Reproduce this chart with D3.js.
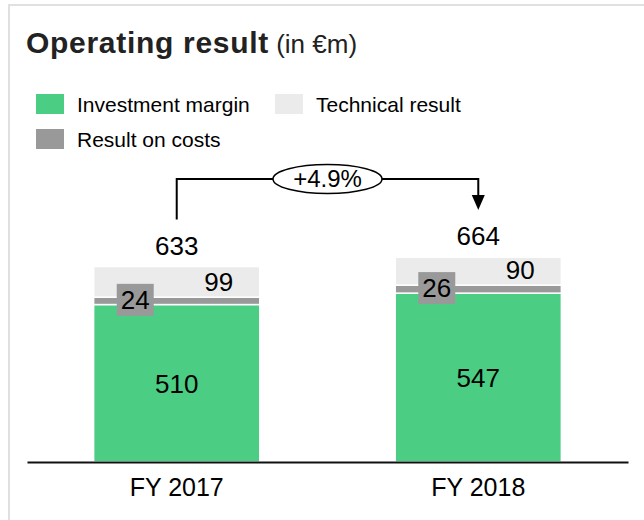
<!DOCTYPE html>
<meta charset="utf-8">
<style>
    body { margin: 0; background: #fff; }
    svg text { font-family: "Liberation Sans", Arial, sans-serif; fill: #000; }
</style>
<script src="https://d3js.org/d3.v7.min.js"></script>
<body>
<div id="chart"></div>
<script>

    // values
    var categories = ["FY 2017", "FY 2018"];
    var investmentMargin = [510, 547];
    var resultOnCosts = [24, 26];
    var technicalResult = [99, 90];
    var totals = [633, 664];
    var growthLabel = "+4.9%";

    var seriesKeys = ["invest", "costs", "technical"];
    var seriesNames = ["Investment margin", "Result on costs", "Technical result"];
    var colors = {invest: "#4bcd84", costs: "#999999", technical: "#ebebeb"};

    var width = 644, height = 520;

    var svg = d3.select("#chart")
        .append("svg")
        .attr("width", width)
        .attr("height", height);

    // panel border
    svg.append("rect")
        .attr("x", 9).attr("y", 5)
        .attr("width", 660).attr("height", 540)
        .attr("fill", "none")
        .attr("stroke", "#e0e0e0")
        .attr("stroke-width", 2);

    // title
    var title = svg.append("text")
        .attr("x", 26).attr("y", 53)
        .style("fill", "#222");
    title.append("tspan")
        .attr("font-weight", "bold")
        .attr("font-size", "30px")
        .attr("letter-spacing", "0.7px")
        .text("Operating result");
    title.append("tspan")
        .attr("font-size", "26px")
        .text(" (in €m)");

    // legend
    var legendItems = [
        {key: "invest", x: 36, y: 94},
        {key: "technical", x: 275, y: 94},
        {key: "costs", x: 36, y: 129}
    ];
    var legend = svg.append("g")
        .selectAll("g")
        .data(legendItems)
        .enter()
        .append("g")
        .attr("transform", function (d) { return "translate(" + d.x + "," + d.y + ")"; });
    legend.append("rect")
        .attr("width", 28).attr("height", 20)
        .attr("fill", function (d) { return colors[d.key]; });
    legend.append("text")
        .attr("x", 41).attr("y", 18)
        .attr("font-size", "21px")
        .text(function (d) { return seriesNames[seriesKeys.indexOf(d.key)]; });

    // scales
    var x = d3.scaleBand()
        .domain(categories)
        .range([27, 628])
        .paddingInner(0.449)
        .paddingOuter(0.221);

    var y = d3.scaleLinear()
        .domain([0, d3.max(totals)])
        .range([462, 257]);

    var rows = categories.map(function (c, i) {
        return {cat: c, invest: investmentMargin[i], costs: resultOnCosts[i], technical: technicalResult[i], total: totals[i]};
    });

    var stack = d3.stack().keys(seriesKeys)(rows);

    svg.append("g")
        .selectAll("g")
        .data(stack)
        .enter()
        .append("g")
        .attr("fill", function (d) { return colors[d.key]; })
        .selectAll("rect")
        .data(function (d) { return d; })
        .enter()
        .append("rect")
        .attr("x", function (d) { return x(d.data.cat); })
        .attr("y", function (d) { return y(d[1]); })
        .attr("width", x.bandwidth())
        .attr("height", function (d) { return y(d[0]) - y(d[1]); })
        .attr("stroke", "#fff")
        .attr("stroke-width", 1.5);

    // axis (baseline + category labels)
    var axis = svg.append("g")
        .attr("transform", "translate(0," + y(0) + ")")
        .call(d3.axisBottom(x).tickSize(0).tickSizeOuter(0).tickPadding(16));
    axis.select(".domain").attr("stroke", "#111").attr("stroke-width", 2);
    axis.selectAll("text")
        .attr("font-size", "25px")
        .attr("font-family", "Liberation Sans, Arial, sans-serif")
        .attr("fill", "#000");

    function cx(d) { return x(d.cat) + x.bandwidth() / 2; }

    // investment margin labels
    svg.append("g").selectAll("text")
        .data(rows).enter().append("text")
        .attr("x", cx)
        .attr("y", function (d) { return (y(0) + y(d.invest)) / 2; })
        .attr("dy", "0.36em")
        .attr("text-anchor", "middle")
        .attr("font-size", "26px")
        .text(function (d) { return d.invest; });

    // technical result labels
    svg.append("g").selectAll("text")
        .data(rows).enter().append("text")
        .attr("x", function (d) { return cx(d) + 42; })
        .attr("y", function (d) { return y(d.invest + d.costs) - 6; })
        .attr("text-anchor", "middle")
        .attr("font-size", "26px")
        .text(function (d) { return d.technical; });

    // result on costs label boxes
    var costBox = svg.append("g").selectAll("g")
        .data(rows).enter().append("g")
        .attr("transform", function (d) {
            var my = (y(d.invest) + y(d.invest + d.costs)) / 2 - 1;
            return "translate(" + (cx(d) - 41.5) + "," + my + ")";
        });
    costBox.append("rect")
        .attr("x", -18.5).attr("y", -16)
        .attr("width", 37).attr("height", 32)
        .attr("fill", colors.costs);
    costBox.append("text")
        .attr("text-anchor", "middle")
        .attr("dy", "0.36em")
        .attr("font-size", "26px")
        .text(function (d) { return d.costs; });

    // totals
    svg.append("g").selectAll("text")
        .data(rows).enter().append("text")
        .attr("x", cx)
        .attr("y", function (d) { return y(d.total) - 12; })
        .attr("text-anchor", "middle")
        .attr("font-size", "26px")
        .text(function (d) { return d.total; });

    // growth bracket
    var x0 = cx(rows[0]), x1 = cx(rows[1]);
    var topY = 179;
    var startY = y(rows[0].total) - 47;
    var tipY = y(rows[1].total) - 47;

    svg.append("path")
        .attr("d", "M" + x0 + "," + startY + "V" + topY + "H" + x1 + "V" + (tipY - 14))
        .attr("fill", "none")
        .attr("stroke", "#000")
        .attr("stroke-width", 2);
    svg.append("path")
        .attr("d", "M" + (x1 - 6.5) + "," + (tipY - 15) + "L" + (x1 + 6.5) + "," + (tipY - 15) + "L" + x1 + "," + tipY + "Z")
        .attr("fill", "#000");

    var mid = (x0 + x1) / 2;
    svg.append("ellipse")
        .attr("cx", mid).attr("cy", topY)
        .attr("rx", 54.5).attr("ry", 14.5)
        .attr("fill", "#fff")
        .attr("stroke", "#000")
        .attr("stroke-width", 1.5);
    svg.append("text")
        .attr("x", mid).attr("y", topY + 8)
        .attr("text-anchor", "middle")
        .attr("font-size", "24px")
        .text(growthLabel);

</script>
</body>
